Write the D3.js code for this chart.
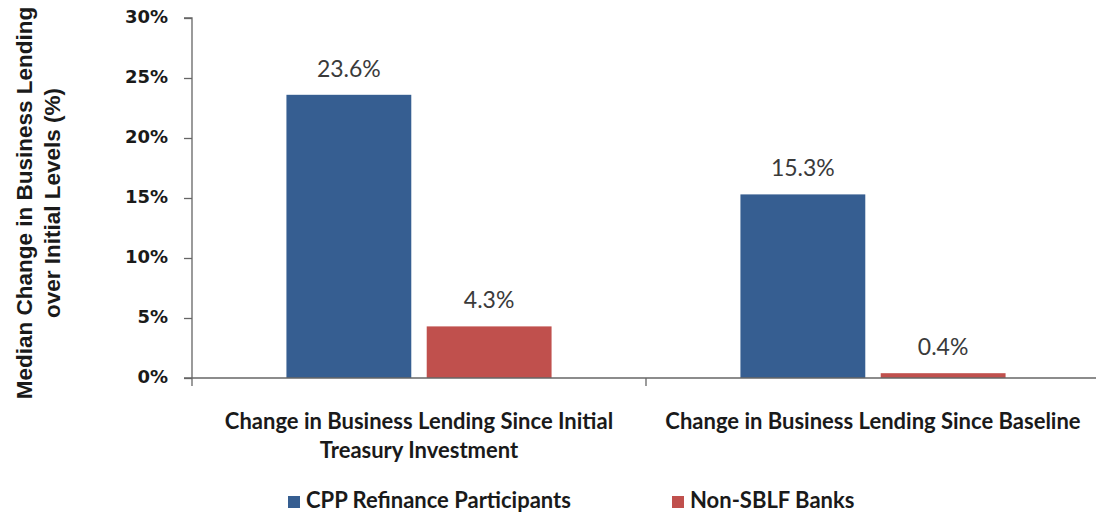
<!DOCTYPE html>
<html>
<head>
<meta charset="utf-8">
<script src="https://cdn.jsdelivr.net/npm/d3@7"></script>
<style>
  html, body { margin: 0; padding: 0; background: #fff; }
  svg { display: block; }
</style>
</head>
<body>
<svg id="chart" width="1096" height="514"></svg>
<script>
const categories = [
  ["Change in Business Lending Since Initial", "Treasury Investment"],
  ["Change in Business Lending Since Baseline"]
];
const categoryKeys = ["initial", "baseline"];
const seriesNames = ["CPP Refinance Participants", "Non-SBLF Banks"];
const cppValues = [23.6, 15.3];
const nonSblfValues = [4.3, 0.4];
const yTicks = [0, 5, 10, 15, 20, 25, 30];
const yTitle = ["Median Change in Business Lending", "over Initial Levels (%)"];
const colors = ["#365E91", "#C0504D"];

(function () {
const svg = d3.select("#chart");
const FONT = "Lato, 'Open Sans', sans-serif";
const TICKFONT = "'DejaVu Sans', Verdana, sans-serif";
const TITLEFONT = "'Liberation Sans', Arial, sans-serif";
const pLeft = 192, pRight = 1100, pTop = 18, pBottom = 378;

const y = d3.scaleLinear().domain([0, 30]).range([pBottom, pTop]);
const x0 = d3.scaleBand().domain(categoryKeys).range([pLeft, pRight])
  .paddingInner(0.416).paddingOuter(0.208);
const x1 = d3.scaleBand().domain(seriesNames).range([0, x0.bandwidth()])
  .paddingInner(0.11);

const seriesValues = [cppValues, nonSblfValues];
const rows = categoryKeys.map((k, i) => ({
  key: k,
  vals: seriesNames.map((s, j) => ({ s, j, v: seriesValues[j][i] }))
}));

// bars
const g = svg.append("g");
const groups = g.selectAll("g.grp").data(rows).join("g")
  .attr("transform", d => `translate(${x0(d.key)},0)`);
groups.selectAll("rect").data(d => d.vals).join("rect")
  .attr("x", d => x1(d.s))
  .attr("width", x1.bandwidth())
  .attr("y", d => y(d.v))
  .attr("height", d => y(0) - y(d.v))
  .attr("fill", d => colors[d.j]);
groups.selectAll("text.val").data(d => d.vals).join("text")
  .attr("class", "val")
  .attr("x", d => x1(d.s) + x1.bandwidth() / 2)
  .attr("y", d => y(d.v) - 18)
  .attr("text-anchor", "middle")
  .attr("font-family", FONT)
  .attr("font-size", 23)
  .attr("fill", "#3a3a3a")
  .text(d => d.v.toFixed(1) + "%");

// y axis
const yAxis = d3.axisLeft(y).tickValues(yTicks).tickSize(8).tickPadding(16)
  .tickFormat(d => d + "%");
const ya = svg.append("g").attr("transform", `translate(${pLeft},0)`).call(yAxis);
ya.select(".domain").attr("stroke", "#666").attr("stroke-width", 1.3)
  .attr("d", `M-8,${pTop}H0V${pBottom}`);
ya.selectAll(".tick line").attr("stroke", "#666").attr("stroke-width", 1.3);
ya.selectAll(".tick text").attr("font-family", TICKFONT).attr("font-size", 18)
  .attr("font-weight", "bold").attr("fill", "#1a1a1a").attr("dy", "0.25em");

// x axis
const xa = svg.append("g").attr("transform", `translate(0,${pBottom})`);
xa.append("line").attr("x1", pLeft - 8).attr("x2", pRight).attr("y1", 0).attr("y2", 0)
  .attr("stroke", "#666").attr("stroke-width", 1.3);
const boundaries = [pLeft, x0(categoryKeys[1]) - x0.step() * x0.paddingInner() / 2];
xa.selectAll("line.tk").data(boundaries).join("line").attr("class", "tk")
  .attr("x1", d => d).attr("x2", d => d).attr("y1", 0).attr("y2", 8)
  .attr("stroke", "#666").attr("stroke-width", 1.3);
xa.selectAll("text.cat").data(categoryKeys).join("text").attr("class", "cat")
  .attr("x", d => x0(d) + x0.bandwidth() / 2)
  .attr("text-anchor", "middle")
  .attr("font-family", FONT).attr("font-size", 22).attr("font-weight", "bold")
  .attr("fill", "#1a1a1a")
  .each(function(d, i) {
    d3.select(this).selectAll("tspan").data(categories[i]).join("tspan")
      .attr("x", x0(d) + x0.bandwidth() / 2)
      .attr("y", (t, k) => 51 + k * 29)
      .text(t => t);
  });

// y title
const yt = svg.append("text")
  .attr("transform", `translate(0,203) rotate(-90)`)
  .attr("text-anchor", "middle")
  .attr("font-family", TITLEFONT).attr("font-size", 22.5).attr("font-weight", "bold")
  .attr("fill", "#1a1a1a");
yt.selectAll("tspan").data(yTitle).join("tspan")
  .attr("x", 0).attr("y", (t, k) => 32 + k * 28).text(t => t);

// legend
const legendX = [288, 672];
const leg = svg.append("g");
const li = leg.selectAll("g").data(seriesNames).join("g")
  .attr("transform", (d, i) => `translate(${legendX[i]},496)`);
li.append("rect").attr("width", 12).attr("height", 12).attr("fill", (d, i) => colors[i]);
li.append("text").attr("x", 18).attr("y", 12)
  .attr("font-family", FONT).attr("font-size", 22).attr("font-weight", "bold")
  .attr("fill", "#1a1a1a").text(d => d);
})();
</script>
</body>
</html>
